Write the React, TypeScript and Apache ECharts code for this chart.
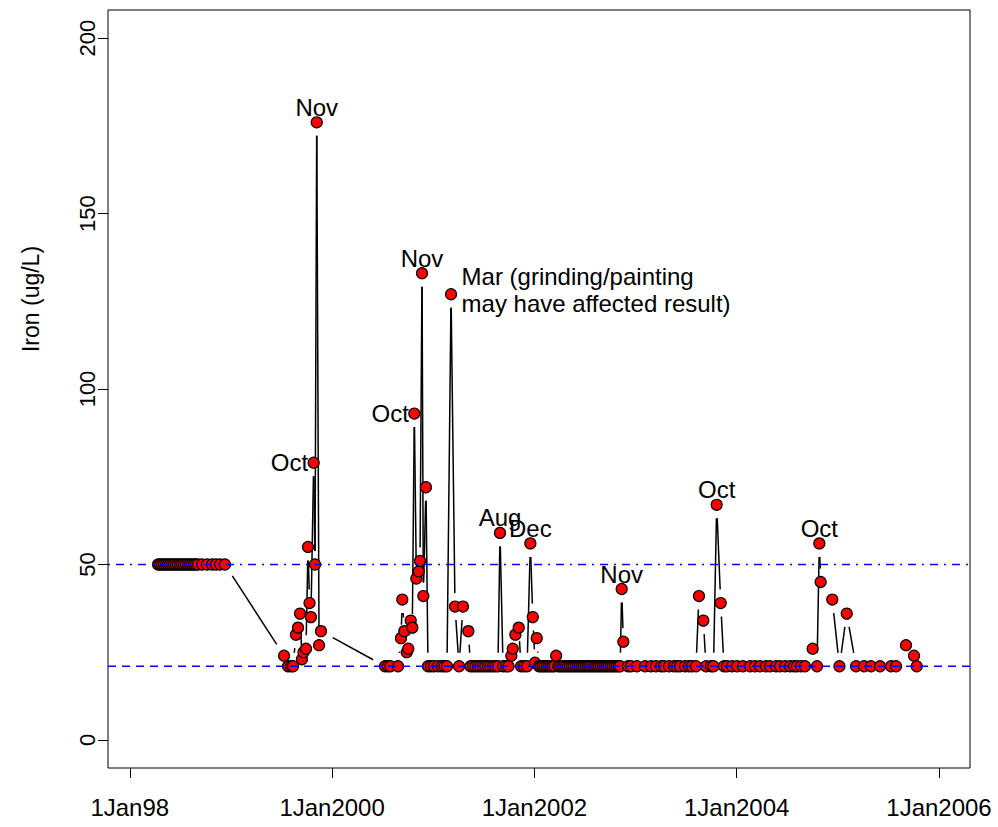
import React, { useEffect, useRef } from 'react';
import * as echarts from 'echarts';

// ---- data (decimal year of sample, iron ug/L) ----
const years1998 = [1998.279, 1998.299, 1998.318, 1998.338, 1998.358, 1998.378, 1998.397, 1998.417, 1998.437, 1998.457, 1998.477, 1998.496, 1998.516, 1998.536, 1998.556, 1998.575, 1998.595, 1998.615, 1998.635, 1998.654, 1998.674, 1998.714, 1998.763, 1998.813, 1998.852, 1998.892, 1998.941];
const iron1998 = [50, 50, 50, 50, 50, 50, 50, 50, 50, 50, 50, 50, 50, 50, 50, 50, 50, 50, 50, 50, 50, 50, 50, 50, 50, 50, 50];

const years1999 = [1999.525, 1999.564, 1999.594, 1999.614, 1999.643, 1999.663, 1999.683, 1999.702, 1999.717, 1999.742, 1999.762, 1999.777, 1999.791, 1999.818, 1999.831, 1999.848, 1999.871, 1999.890];
const iron1999 = [24, 21, 21, 21, 30, 32, 36, 23, 25, 26, 55, 39, 35, 79, 50, 176, 27, 31];

const years2000 = [2000.523, 2000.552, 2000.577, 2000.652, 2000.681, 2000.694, 2000.714, 2000.738, 2000.753, 2000.777, 2000.793, 2000.813, 2000.833, 2000.856, 2000.869, 2000.889, 2000.902, 2000.928, 2000.948, 2000.978];
const iron2000 = [21, 21, 21, 21, 29, 40, 31, 25, 26, 34, 32, 93, 46, 48, 51, 133, 41, 72, 21, 21];

const years2001 = [2001.007, 2001.047, 2001.084, 2001.111, 2001.136, 2001.176, 2001.215, 2001.255, 2001.294, 2001.347, 2001.368, 2001.393, 2001.418, 2001.442, 2001.467, 2001.492, 2001.517, 2001.541, 2001.566, 2001.591, 2001.615, 2001.640, 2001.660, 2001.690, 2001.719, 2001.744, 2001.772, 2001.786, 2001.812, 2001.845, 2001.868, 2001.898, 2001.928, 2001.960, 2001.984];
const iron2001 = [21, 21, 21, 21, 21, 127, 38, 21, 38, 31, 21, 21, 21, 21, 21, 21, 21, 21, 21, 21, 21, 21, 59, 21, 21, 21, 24, 26, 30, 32, 21, 21, 21, 56, 35];

const years2002 = [2002.006, 2002.023, 2002.045, 2002.064, 2002.083, 2002.102, 2002.122, 2002.141, 2002.160, 2002.179, 2002.198, 2002.215, 2002.237, 2002.256, 2002.275, 2002.294, 2002.314, 2002.333, 2002.352, 2002.371, 2002.390, 2002.410, 2002.429, 2002.448, 2002.467, 2002.486, 2002.506, 2002.525, 2002.544, 2002.563, 2002.582, 2002.602, 2002.621, 2002.640, 2002.659, 2002.678, 2002.698, 2002.717, 2002.736, 2002.755, 2002.774, 2002.794, 2002.813, 2002.832, 2002.848, 2002.863, 2002.879, 2002.925, 2002.955];
const iron2002 = [22, 29, 21, 21, 21, 21, 21, 21, 21, 21, 21, 24, 21, 21, 21, 21, 21, 21, 21, 21, 21, 21, 21, 21, 21, 21, 21, 21, 21, 21, 21, 21, 21, 21, 21, 21, 21, 21, 21, 21, 21, 21, 21, 21, 21, 43, 28, 21, 21];

const years2003 = [2003.014, 2003.094, 2003.153, 2003.202, 2003.252, 2003.281, 2003.331, 2003.380, 2003.410, 2003.439, 2003.489, 2003.528, 2003.558, 2003.598, 2003.627, 2003.670, 2003.697, 2003.746, 2003.771, 2003.802, 2003.842, 2003.874, 2003.904, 2003.954];
const iron2003 = [21, 21, 21, 21, 21, 21, 21, 21, 21, 21, 21, 21, 21, 21, 41, 34, 21, 21, 21, 67, 39, 21, 21, 21];

const years2004 = [2004.003, 2004.062, 2004.132, 2004.181, 2004.230, 2004.290, 2004.329, 2004.389, 2004.428, 2004.478, 2004.527, 2004.567, 2004.596, 2004.636, 2004.675, 2004.751, 2004.794, 2004.817, 2004.830, 2004.945];
const iron2004 = [21, 21, 21, 21, 21, 21, 21, 21, 21, 21, 21, 21, 21, 21, 21, 26, 21, 56, 45, 40];

const years2005 = [2005.016, 2005.088, 2005.180, 2005.259, 2005.328, 2005.417, 2005.526, 2005.575, 2005.674, 2005.753, 2005.780];
const iron2005 = [21, 36, 21, 21, 21, 21, 21, 21, 27, 24, 21];

// annotations
const noteYears = [1999.848, 1999.818, 2000.813, 2000.889, 2001.176, 2001.660, 2001.960, 2002.863, 2003.802, 2004.817];
const noteValues = [176, 79, 93, 133, 127, 59, 56, 43, 67, 56];
const noteTexts = ['Nov', 'Oct', 'Oct', 'Nov', 'Mar (grinding/painting\nmay have affected result)', 'Aug', 'Dec', 'Nov', 'Oct', 'Oct'];

// axes
const xTickYears = [1998, 2000, 2002, 2004, 2006];
const xTickLabels = ['1Jan98', '1Jan2000', '1Jan2002', '1Jan2004', '1Jan2006'];
const yTicks = [0, 50, 100, 150, 200];
const yLabel = 'Iron (ug/L)';

// reference levels
const upperLimit = 50;
const lowerLimit = 21;

const FONT = 'Liberation Sans, Arial, Helvetica, sans-serif';

export default function App() {
  const ref = useRef<HTMLDivElement>(null);
  useEffect(() => {
    if (!ref.current) return;
    const chart = echarts.init(ref.current, null, { renderer: 'svg' });
    const years = [...years1998, ...years1999, ...years2000, ...years2001, ...years2002, ...years2003, ...years2004, ...years2005];
    const iron = [...iron1998, ...iron1999, ...iron2000, ...iron2001, ...iron2002, ...iron2003, ...iron2004, ...iron2005];
    const pts = years.map((y, i) => [y, iron[i]]);
    const segs = pts.slice(1).map((p, i) => [pts[i][0], pts[i][1], p[0], p[1]]);

    const xMin = 1997.7845;
    const xMax = 2006.3065;
    const GAP = 13.5;

    const placement = ['top', 'left', 'left', 'top', 'right', 'top', 'top', 'top', 'top', 'top'];
    const notes = noteYears.map((y, i) => {
      const pl = placement[i];
      let label: any;
      if (pl === 'top') {
        label = { position: 'inside', offset: [0, -15], align: 'center', verticalAlign: 'middle' };
      } else if (pl === 'left') {
        label = { position: 'left', distance: 0, offset: [0, 0] };
      } else {
        label = { position: 'right', distance: 5, offset: [0, -4], align: 'left', lineHeight: 27 };
      }
      return {
        value: [y, noteValues[i]],
        label: {
          show: true, formatter: noteTexts[i], color: '#000', opacity: 1,
          textBorderWidth: 0, textShadowBlur: 0, fontFamily: FONT, fontSize: 24, ...label,
        },
      };
    });

    const option: any = {
      animation: false,
      grid: { left: 108, top: 10, right: 28, bottom: 59, show: true, borderColor: '#000', borderWidth: 1, backgroundColor: 'transparent' },
      xAxis: {
        type: 'value',
        min: xMin,
        max: xMax,
        axisLine: { show: false, onZero: false },
        splitLine: { show: false },
        axisTick: { show: true, customValues: xTickYears, length: 10, lineStyle: { color: '#000', width: 1 } },
        axisLabel: {
          customValues: xTickYears,
          formatter: (v: number) => xTickLabels[xTickYears.indexOf(Math.round(v))] ?? '',
          color: '#000', fontFamily: FONT, fontSize: 24, margin: 27,
        },
      },
      yAxis: {
        type: 'value',
        min: -8,
        max: 208,
        axisLine: { show: false, onZero: false },
        splitLine: { show: false },
        axisTick: { show: true, customValues: yTicks, length: 10, lineStyle: { color: '#000', width: 1 } },
        axisLabel: { customValues: yTicks, rotate: 90, color: '#000', fontFamily: FONT, fontSize: 22, margin: 10 },
      },
      graphic: [
        {
          type: 'text',
          x: 31,
          y: 299,
          rotation: Math.PI / 2,
          style: { text: yLabel, fill: '#000', font: `23px ${FONT}`, textAlign: 'center', textVerticalAlign: 'middle' },
        },
      ],
      series: [
        {
          type: 'custom',
          z: 1,
          clip: true,
          encode: { x: [0, 2], y: [1, 3] },
          data: segs,
          renderItem: (params: any, api: any) => {
            const p0 = api.coord([api.value(0), api.value(1)]);
            const p1 = api.coord([api.value(2), api.value(3)]);
            const dx = p1[0] - p0[0];
            const dy = p1[1] - p0[1];
            const d = Math.sqrt(dx * dx + dy * dy);
            if (d <= 2 * GAP) return { type: 'group', children: [] };
            const ux = dx / d, uy = dy / d;
            return {
              type: 'line',
              shape: { x1: p0[0] + ux * GAP, y1: p0[1] + uy * GAP, x2: p1[0] - ux * GAP, y2: p1[1] - uy * GAP },
              style: { stroke: '#000', lineWidth: 1.5 },
            };
          },
        },
        {
          type: 'scatter',
          z: 2,
          data: pts,
          symbol: 'circle',
          symbolSize: 11,
          itemStyle: { color: '#FF0000', borderColor: '#000', borderWidth: 1.2, opacity: 1 },
        },
        {
          type: 'line',
          z: 3,
          data: [[xMin, upperLimit], [xMax, upperLimit]],
          symbol: 'none',
          lineStyle: { color: '#0000FF', width: 1.5, type: [2, 6, 8, 6] },
        },
        {
          type: 'line',
          z: 3,
          data: [[xMin, lowerLimit], [xMax, lowerLimit]],
          symbol: 'none',
          lineStyle: { color: '#0000FF', width: 1.5, type: [8, 6] },
        },
        {
          type: 'scatter',
          z: 4,
          data: notes,
          symbol: 'circle',
          symbolSize: 11,
          itemStyle: { color: '#fff', opacity: 0 },
        },
      ],
    };
    chart.setOption(option);
    return () => chart.dispose();
  }, []);
  return <div ref={ref} style={{ position: 'absolute', left: 0, top: 0, width: 998, height: 827 }} />;
}
